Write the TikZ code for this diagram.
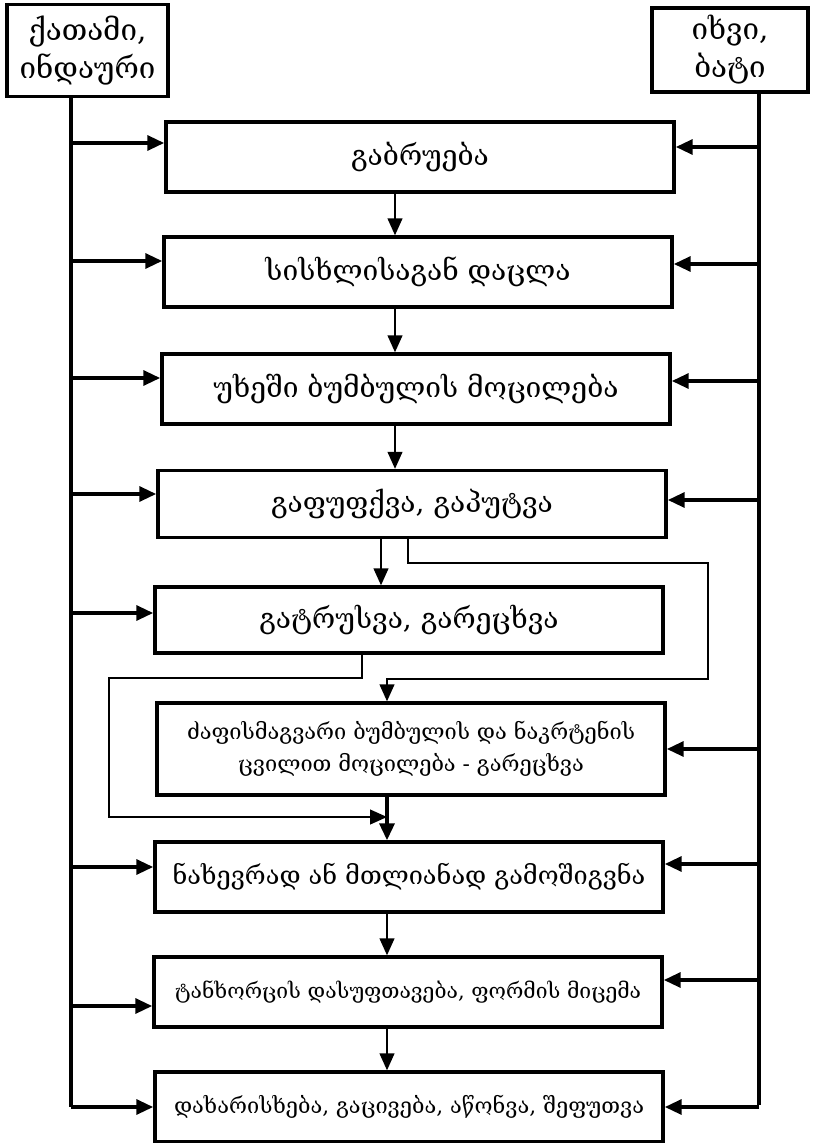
\documentclass[tikz,border=0pt]{standalone}
\usepackage{fontspec}
\setmainfont{DejaVu Serif}
\usetikzlibrary{arrows.meta}

\begin{document}
\begin{tikzpicture}
[x=0.025cm,y=-0.025cm,%
  box/.style={draw,line width=2.4pt,align=center,inner sep=2pt,%
    minimum width=12.7cm,minimum height=1.75cm,font=\fontsize{20}{26}\selectfont},%
  src/.style={draw,line width=2.4pt,align=center,inner sep=2pt,font=\fontsize{21}{27}\selectfont},%
  trunk/.style={line width=2.6pt},%
  feed/.style={line width=2.6pt,-{Triangle[length=12pt,width=10.5pt]}},%
  flow/.style={line width=1.1pt,-{Triangle[length=12pt,width=10.5pt]}},%
  bypass/.style={line width=1.1pt}]
\useasboundingbox (0,0) rectangle (816,1143);

\node[src,minimum width=4.03cm,minimum height=2.3cm] (hen) at (87.5,50.5) {ქათამი,\\ინდაური};
\node[src,minimum width=3.9cm,minimum height=2.1cm] (duck) at (730,50) {იხვი,\\ბატი};

\node[box] (b1) at (420,157) {გაბრუება};
\node[box] (b2) at (418,272) {სისხლისაგან დაცლა};
\node[box] (b3) at (416,389) {უხეში ბუმბულის მოცილება};
\node[box,minimum height=1.675cm] (b4) at (412,504) {გაფუფქვა, გაპუტვა};
\node[box,minimum height=1.65cm] (b5) at (409,620) {გატრუსვა, გარეცხვა};
\node[box,minimum height=2.3cm,font=\fontsize{15.5}{23}\selectfont] (b6) at (411,749)
  {ძაფისმაგვარი ბუმბულის და ნაკრტენის\\ცვილით მოცილება - გარეცხვა};
\node[box,font=\fontsize{18}{22}\selectfont] (b7) at (409,877) {ნახევრად ან მთლიანად გამოშიგვნა};
\node[box,font=\fontsize{15}{20}\selectfont] (b8) at (408,992) {ტანხორცის დასუფთავება, ფორმის მიცემა};
\node[box,font=\fontsize{15.5}{20}\selectfont] (b9) at (409,1107) {დახარისხება, გაცივება, აწონვა, შეფუთვა};

\coordinate (lend) at (71,1107);
\coordinate (rend) at (759,1105);
\coordinate (ax) at (395,0);
\coordinate (bx) at (381,0);
\coordinate (cx) at (387,0);
\coordinate (dx) at (362,0);
\coordinate (ex) at (408,0);
\coordinate (lp1) at (109,678);
\coordinate (lp2) at (109,817);
\coordinate (rp1) at (708,563);
\coordinate (rp2) at (708,679);

\draw[trunk] (hen.south -| lend) -- (lend);
\draw[trunk] (duck.south -| rend) -- (rend);

\foreach \n/\s in {b1/0.35,b2/0.275,b3/0.275,b4/0.25,b5/0.175,b7/0.25,b8/-0.35,b9/0}{
  \coordinate (t) at ([yshift=\s cm]\n.west);
  \draw[feed] (lend |- t) -- (t);
}
\foreach \n/\s in {b1/0.25,b2/0.2,b3/0.2,b4/0.1,b6/0,b7/0.325,b8/0.3,b9/0}{
  \coordinate (t) at ([yshift=\s cm]\n.east);
  \draw[feed] (rend |- t) -- (t);
}

\draw[flow] (b1.south -| ax) -- (b2.north -| ax);
\draw[flow] (b2.south -| ax) -- (b3.north -| ax);
\draw[flow] (b3.south -| ax) -- (b4.north -| ax);
\draw[flow] (b4.south -| bx) -- (b5.north -| bx);
\draw[flow,line width=2.6pt] (b6.south -| cx) -- (b7.north -| cx);
\draw[flow] (b7.south -| cx) -- (b8.north -| cx);
\draw[flow] (b8.south -| cx) -- (b9.north -| cx);

\draw[bypass,-{Triangle[length=12pt,width=10.5pt]}] (b4.south -| ex) |- (rp1) -- (rp2) -- (rp2 -| cx) -- (b6.north -| cx);
\draw[bypass,-{Triangle[length=12pt,width=10.5pt]}] (b5.south -| dx) |- (lp1) -- (lp2) -- (lp2 -| cx);
\end{tikzpicture}
\end{document}
